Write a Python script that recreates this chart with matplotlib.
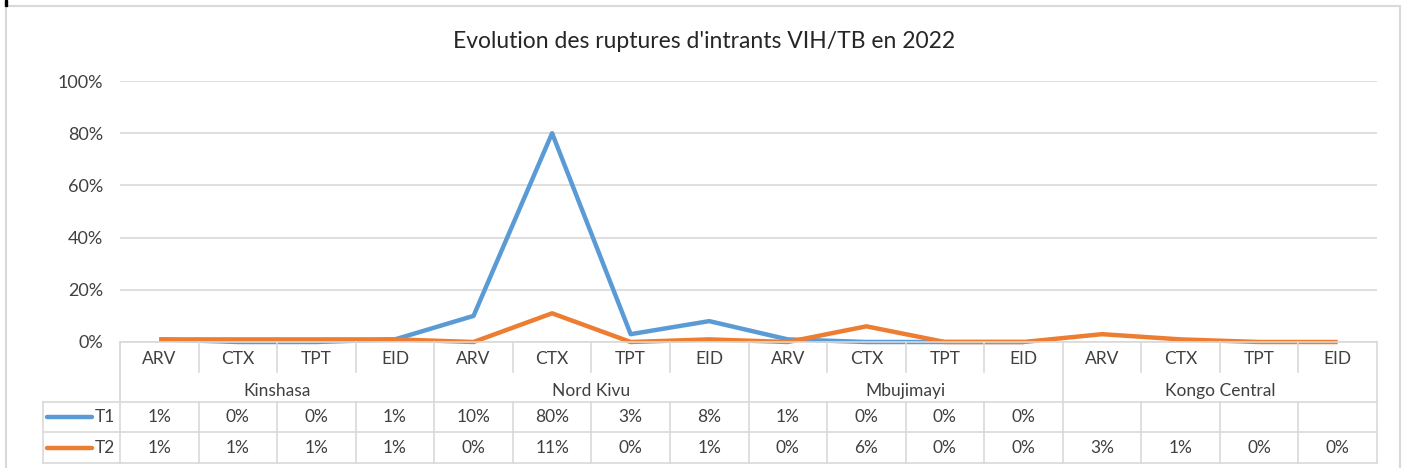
import matplotlib.pyplot as plt
from matplotlib.patches import Rectangle

plt.rcParams['font.family'] = ['Lato', 'DejaVu Sans']

# data
regions = ["Kinshasa", "Nord Kivu", "Mbujimayi", "Kongo Central"]
products = ["ARV", "CTX", "TPT", "EID"]
t1 = [0.01, 0.00, 0.00, 0.01, 0.10, 0.80, 0.03, 0.08, 0.01, 0.00, 0.00, 0.00,
      None, None, None, None]
t2 = [0.01, 0.01, 0.01, 0.01, 0.00, 0.11, 0.00, 0.01, 0.00, 0.06, 0.00, 0.00,
      0.03, 0.01, 0.00, 0.00]
series = [("T1", t1, "#5B9BD5"), ("T2", t2, "#ED7D31")]
yticks = [0.0, 0.2, 0.4, 0.6, 0.8, 1.0]

W, H = 1402, 468
fig = plt.figure(figsize=(W / 100, H / 100), dpi=100)
grid_c = "#d9d9d9"
text_c = "#404040"
fs = 12.5

# outer chart frame
fig.patches.append(Rectangle((6 / W, -0.1), (1400 - 6) / W, (H - 6) / H + 0.1,
                             transform=fig.transFigure, fill=False,
                             edgecolor="#d9d9d9", lw=1.5))
fig.patches.append(Rectangle((5 / W, (H - 6) / H), 2 / W, 6 / H,
                             transform=fig.transFigure, color="black"))

px_l, px_r = 120, 1377
top, zero = 81, 342
n = len(regions) * len(products)
colw = (px_r - px_l) / n

ax = fig.add_axes([px_l / W, (H - zero) / H, (px_r - px_l) / W, (zero - top) / H])
ax.set_xlim(-0.5, n - 0.5)
ax.set_ylim(0, 1)
for s in ax.spines.values():
    s.set_visible(False)
ax.set_xticks([])
ax.set_yticks(yticks)
ax.set_yticklabels([f"{int(v * 100)}%" for v in yticks], fontsize=13, color=text_c)
ax.tick_params(axis="y", length=0, pad=12)
ax.grid(axis="y", color=grid_c, lw=1.2)
ax.set_axisbelow(True)

x = list(range(n))
for name, vals, col in series:
    xs = [i for i, v in zip(x, vals) if v is not None]
    ys = [v for v in vals if v is not None]
    ax.plot(xs, ys, color=col, lw=3.2, solid_capstyle="butt", clip_on=False, zorder=3)

fig.text(704 / W, 1 - 42 / H, "Evolution des ruptures d'intrants VIH/TB en 2022",
         ha="center", va="center", fontsize=16.5, color="#262626")

# data table below the plot, pixel rows
leg_l = 43
r0, r1, r2, r3, r4 = 342, 375, 402, 432, 463
tab = fig.add_axes([leg_l / W, (H - r4) / H, (px_r - leg_l) / W, (r4 - r0) / H])
tab.set_xlim(-0.5 - (px_l - leg_l) / colw, n - 0.5)
tab.set_ylim(r4, r0)
tab.axis("off")

lk = dict(color=grid_c, lw=1.2, clip_on=False)
tab.plot([-0.5, n - 0.5], [r0, r0], **lk)
tab.plot([-0.5, -0.5], [r0, r2], **lk)
xl = tab.get_xlim()[0]
for yy in (r2, r3, r4):
    tab.plot([xl, n - 0.5], [yy, yy], **lk)
tab.plot([xl, xl], [r2, r4], **lk)
for i in range(n + 1):
    b = i - 0.5
    if i % len(products) == 0:
        tab.plot([b, b], [r0, r4], **lk)
    else:
        tab.plot([b, b], [r0, r0 + 30], **lk)
        tab.plot([b, b], [r2, r4], **lk)

for i in range(n):
    tab.text(i, (r0 + r1) / 2 + 1, products[i % len(products)], ha="center",
             va="center", fontsize=fs, color=text_c)
for j, reg in enumerate(regions):
    tab.text(j * len(products) + 1.5, (r1 + r2) / 2 + 2, reg, ha="center",
             va="center", fontsize=fs, color=text_c)

for k, (name, vals, col) in enumerate(series):
    yc = (r2 + r3) / 2 if k == 0 else (r3 + r4) / 2
    for i, v in enumerate(vals):
        if v is not None:
            tab.text(i, yc, f"{round(v * 100)}%", ha="center", va="center",
                     fontsize=fs, color=text_c)
    tab.plot([xl + 4 / colw, xl + 49 / colw], [yc, yc], color=col, lw=3.2,
             solid_capstyle="round", clip_on=False)
    tab.text(xl + 52 / colw, yc, name, ha="left", va="center", fontsize=fs,
             color=text_c)

fig.savefig("out.png", dpi=100)
